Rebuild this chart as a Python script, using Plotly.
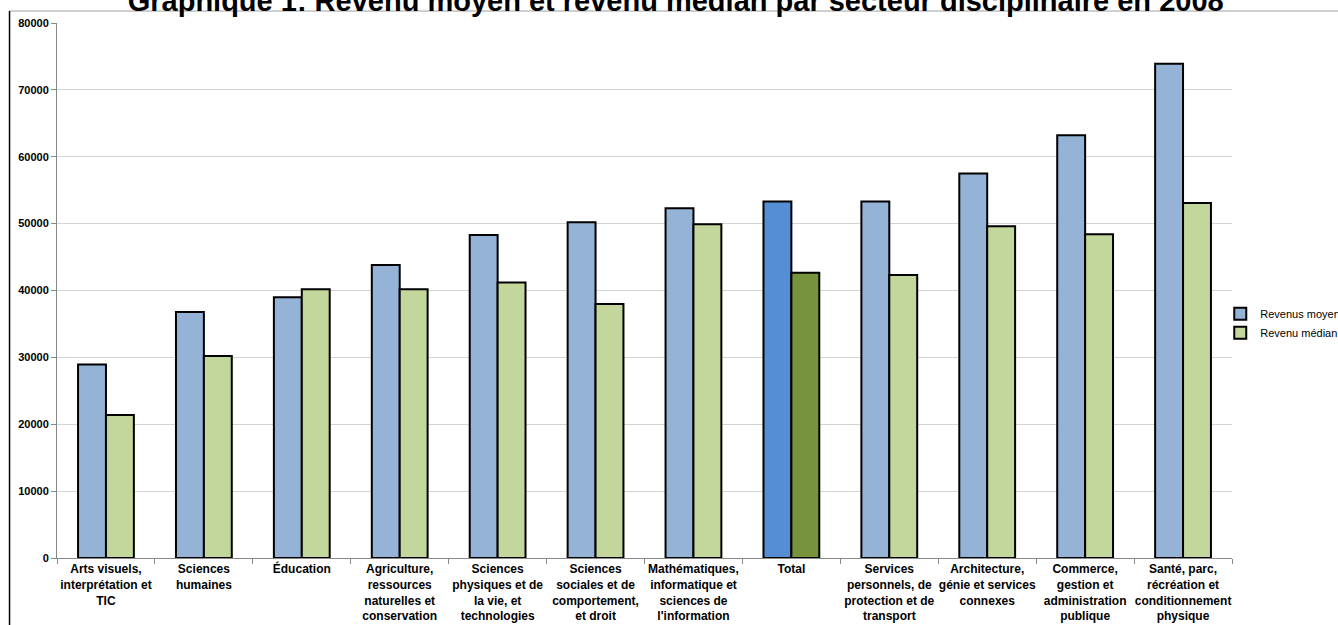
import plotly.graph_objects as go

categories = [
    "Arts visuels,<br>interprétation et<br>TIC",
    "Sciences<br>humaines",
    "Éducation",
    "Agriculture,<br>ressources<br>naturelles et<br>conservation",
    "Sciences<br>physiques et de<br>la vie, et<br>technologies",
    "Sciences<br>sociales et de<br>comportement,<br>et droit",
    "Mathématiques,<br>informatique et<br>sciences de<br>l'information",
    "Total",
    "Services<br>personnels, de<br>protection et de<br>transport",
    "Architecture,<br>génie et services<br>connexes",
    "Commerce,<br>gestion et<br>administration<br>publique",
    "Santé, parc,<br>récréation et<br>conditionnement<br>physique",
]
revenu_moyen = [28950, 36800, 39000, 43800, 48300, 50200, 52300, 53300, 53300, 57500, 63200, 73900]
revenu_median = [21400, 30200, 40200, 40200, 41200, 38000, 49900, 42650, 42300, 49600, 48400, 53100]
y_ticks = [0, 10000, 20000, 30000, 40000, 50000, 60000, 70000, 80000]

blue = ["#558ed5" if c == "Total" else "#95b3d7" for c in categories]
green = ["#77933c" if c == "Total" else "#c3d69b" for c in categories]

fig = go.Figure()
fig.add_trace(go.Bar(x=categories, y=revenu_moyen, name="Revenus moyens",
                     marker=dict(color=blue, line=dict(color="#000000", width=2))))
fig.add_trace(go.Bar(x=categories, y=revenu_median, name="Revenu médian",
                     marker=dict(color=green, line=dict(color="#000000", width=2))))

fig.update_layout(
    width=1338, height=625,
    margin=dict(l=57, r=106, t=23, b=67, autoexpand=False),
    paper_bgcolor="white", plot_bgcolor="white",
    barmode="group", bargap=0.43, bargroupgap=0,
    font=dict(family="Liberation Sans, Arial", color="#000000"),
    title=dict(text="<b>Graphique 1: Revenu moyen et revenu médian par secteur disciplinaire en 2008</b>",
               x=0.505, xanchor="center", y=0.999, yanchor="middle", yref="container",
               font=dict(size=29, color="#000000")),
    showlegend=True,
    legend=dict(xref="container", yref="container", x=0.912, y=0.483,
                xanchor="left", yanchor="middle",
                font=dict(size=11, color="#000000"), itemwidth=30,
                tracegroupgap=0, bgcolor="rgba(0,0,0,0)"),
    xaxis=dict(showline=True, linecolor="#888888", linewidth=1, automargin=False,
               tickangle=0,
               ticks="outside", tickson="boundaries", ticklen=5, tickcolor="#888888",
               tickfont=dict(size=12, color="#000000", family="Liberation Sans, Arial"),
               showgrid=False,
               tickvals=categories, ticktext=["<b>" + c + "</b>" for c in categories]),
    yaxis=dict(range=[0, 80000], tickvals=y_ticks, ticktext=["<b>" + str(v) + "</b>" for v in y_ticks],
               showline=True, linecolor="#888888", linewidth=1, automargin=False,
               ticks="outside", ticklen=5, tickcolor="#888888",
               showgrid=True, gridcolor="#d4d4d4", gridwidth=1,
               tickfont=dict(size=11, color="#000000"), zeroline=False),
    shapes=[
        dict(type="line", xref="paper", yref="paper", x0=-0.0404, x1=1.2,
             y0=1.0224, y1=1.0224, line=dict(color="#a0a0a0", width=1)),
        dict(type="line", xref="paper", yref="paper", x0=-0.0404, x1=-0.0404,
             y0=1.0224, y1=-0.3, line=dict(color="#000000", width=1.5)),
    ],
)
fig.write_html("out.html")
